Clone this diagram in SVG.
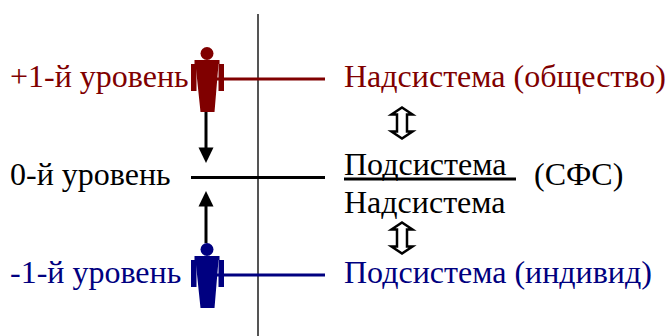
<svg xmlns="http://www.w3.org/2000/svg" width="667" height="336" viewBox="0 0 667 336">
<style>
text{font-family:"Liberation Serif","Times New Roman",serif;font-size:32px}
.r{fill:#800000}.b{fill:#000080}.k{fill:#000}
.cr{stroke:#800000}.cb{stroke:#000080}
line{stroke-width:3;fill:none}
.dbl{fill:#fff;stroke:#000;stroke-width:2.500}
</style>
<defs>
<g id="person">
<circle cx="37" cy="23.500" r="6.500"/>
<path d="M24.500 30H49.500V34H48.500L44.500 82H30.500L25.500 34H24.500Z"/>
<rect x="21" y="34" width="5.500" height="27"/>
<rect x="48.500" y="34" width="5.500" height="27"/>
</g>
<path id="dblarrow" class="dbl" d="M402 107.500L412.500 114.500H407V131.500H412.500L402 138.500L391.500 131.500H397V114.500H391.500Z"/>
</defs>
<g id="connectors">
<line x1="258" y1="14" x2="258" y2="336" style="stroke:#555;stroke-width:2"/>
<line x1="215" y1="79" x2="325" y2="79" class="cr"/>
<line x1="191" y1="177.500" x2="325" y2="177.500" stroke="#000"/>
<line x1="215" y1="275" x2="325" y2="275" class="cb"/>
<line x1="206" y1="112" x2="206" y2="148" stroke="#000"/>
<path d="M198.500 147.500H213.500L206 163Z"/>
<line x1="206" y1="243" x2="206" y2="206" stroke="#000"/>
<path d="M198.500 206.500H213.500L206 191Z"/>
<line x1="344" y1="179" x2="516" y2="179" stroke="#000"/>
<use href="#dblarrow"/>
<use href="#dblarrow" y="115"/>
</g>
<g id="person-top" class="r"><use href="#person" x="170" y="30"/></g>
<g id="person-bottom" class="b"><use href="#person" x="170" y="226"/></g>
<g id="level-plus"><text x="10" y="87" class="r">+1-й уровень</text></g>
<g id="level-zero"><text x="10" y="185" class="k">0-й уровень</text></g>
<g id="level-minus"><text x="10" y="283" class="b">-1-й уровень</text></g>
<g id="supersystem"><text x="344" y="87" class="r">Надсистема (общество)</text></g>
<g id="sfs">
<text x="344" y="175" class="k">Подсистема</text>
<text x="344" y="213" class="k">Надсистема</text>
<text x="534" y="185" class="k">(СФС)</text>
</g>
<g id="subsystem"><text x="344" y="283" class="b">Подсистема (индивид)</text></g>
</svg>
